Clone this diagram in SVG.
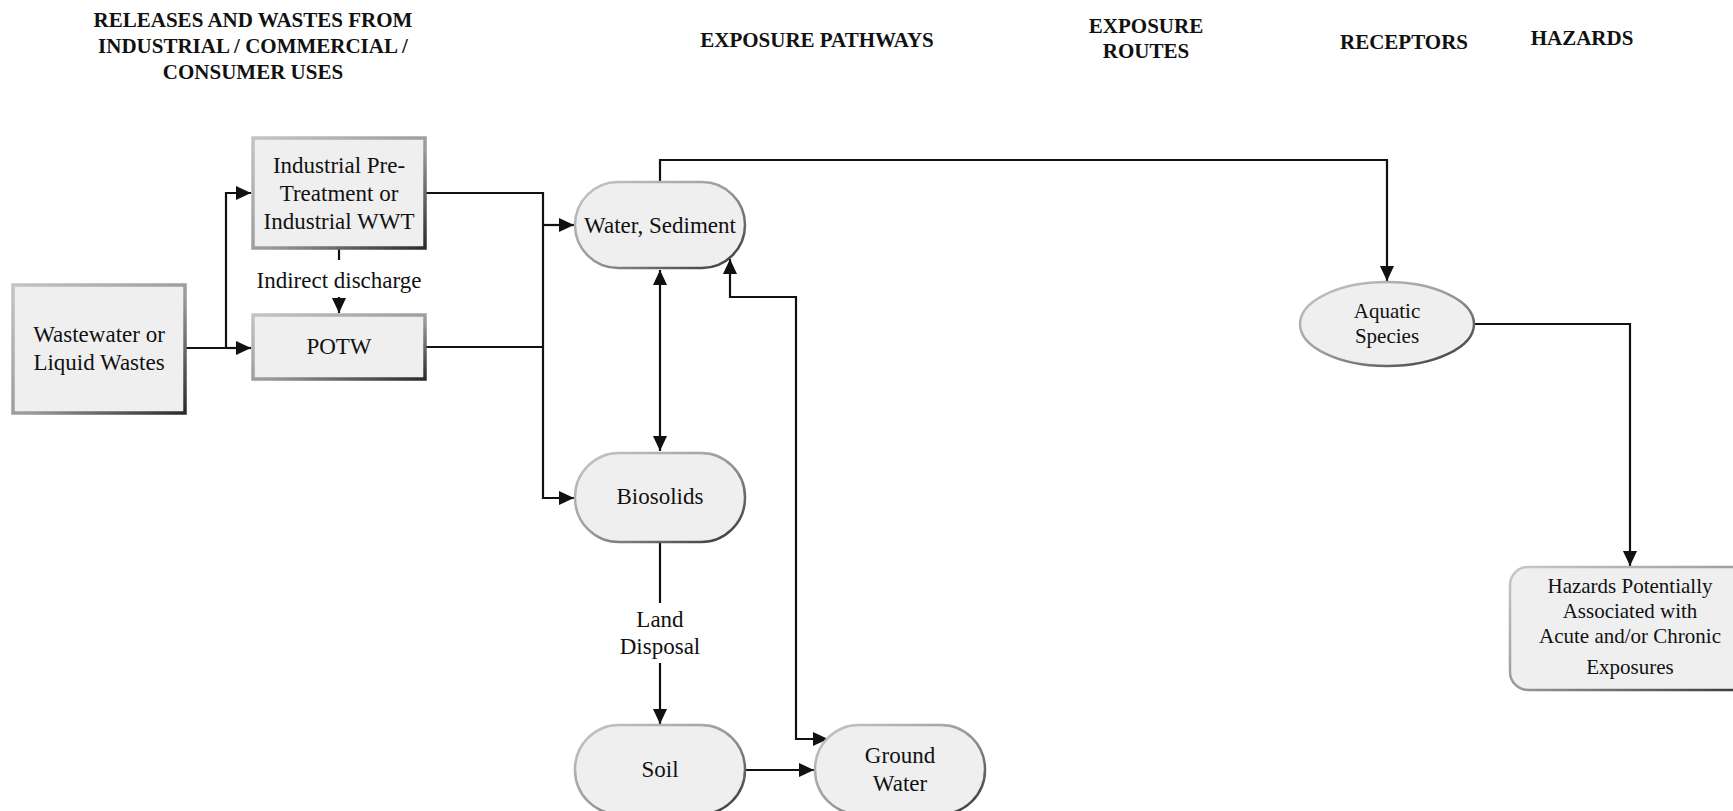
<svg xmlns="http://www.w3.org/2000/svg" width="1733" height="811" viewBox="0 0 1733 811">
<style>
text{font-family:"Liberation Serif","Times New Roman",serif;fill:#111;text-anchor:middle}
.hd{font-size:21px;font-weight:bold}
.t{font-size:23px}
.s{font-size:21px}
.box{fill:#efefef;stroke:url(#bev);stroke-width:3.5}
.pill{fill:#efefef;stroke:url(#bev2);stroke-width:2.5}
.ln{fill:none;stroke:#111;stroke-width:2.2}
</style>
<defs>
<linearGradient id="bev" x1="0" y1="0" x2="1" y2="1">
<stop offset="0" stop-color="#c4c4c4"/><stop offset="0.55" stop-color="#9a9a9a"/><stop offset="1" stop-color="#2a2a2a"/>
</linearGradient>
<linearGradient id="bev2" x1="0" y1="0" x2="1" y2="1">
<stop offset="0" stop-color="#c8c8c8"/><stop offset="0.5" stop-color="#9a9a9a"/><stop offset="1" stop-color="#333"/>
</linearGradient>
<marker id="ah" markerUnits="userSpaceOnUse" markerWidth="16" markerHeight="14" refX="15" refY="7" orient="auto-start-reverse">
<path d="M0,0 L15,7 L0,14 z" fill="#111"/>
</marker>
</defs>
<rect width="1733" height="811" fill="#fff"/>

<g id="headers">
<text class="hd" x="253" y="27">RELEASES AND WASTES FROM</text>
<text class="hd" x="253" y="53">INDUSTRIAL / COMMERCIAL /</text>
<text class="hd" x="253" y="79">CONSUMER USES</text>
<text class="hd" x="817" y="47">EXPOSURE PATHWAYS</text>
<text class="hd" x="1146" y="33">EXPOSURE</text>
<text class="hd" x="1146" y="58">ROUTES</text>
<text class="hd" x="1404" y="49">RECEPTORS</text>
<text class="hd" x="1582" y="45">HAZARDS</text>
</g>

<g id="connectors">
<path class="ln" d="M185,348 H226 V193 H251" marker-end="url(#ah)"/>
<path class="ln" d="M226,348 H251" marker-end="url(#ah)"/>
<path class="ln" d="M339,248 V260"/>
<path class="ln" d="M339,297 V313" marker-end="url(#ah)"/>
<path class="ln" d="M425,193 H543 V498 H574" marker-end="url(#ah)"/>
<path class="ln" d="M425,347 H543"/>
<path class="ln" d="M543,225 H574" marker-end="url(#ah)"/>
<path class="ln" d="M660,270 V451" marker-start="url(#ah)" marker-end="url(#ah)"/>
<path class="ln" d="M660,542 V603"/>
<path class="ln" d="M660,663 V724" marker-end="url(#ah)"/>
<path class="ln" d="M745,770 H814" marker-end="url(#ah)"/>
<path class="ln" d="M730,259 V297 H796 V739 H828" marker-start="url(#ah)" marker-end="url(#ah)"/>
<path class="ln" d="M660,182 V160 H1387 V281" marker-end="url(#ah)"/>
<path class="ln" d="M1475,324 H1630 V566" marker-end="url(#ah)"/>
<text class="t" x="339" y="288">Indirect discharge</text>
<text class="t" x="660" y="627">Land</text>
<text class="t" x="660" y="654">Disposal</text>
</g>

<g id="wastewater">
<rect class="box" x="13" y="285" width="172" height="128"/>
<text class="t" x="99" y="342">Wastewater or</text>
<text class="t" x="99" y="370">Liquid Wastes</text>
</g>

<g id="industrial">
<rect class="box" x="253" y="138" width="172" height="110"/>
<text class="t" x="339" y="173">Industrial Pre-</text>
<text class="t" x="339" y="201">Treatment or</text>
<text class="t" x="339" y="229">Industrial WWT</text>
</g>

<g id="potw">
<rect class="box" x="253" y="315" width="172" height="64"/>
<text class="t" x="339" y="354">POTW</text>
</g>

<g id="water-sediment">
<rect class="pill" x="575" y="182" width="170" height="86" rx="43"/>
<text class="t" x="660" y="233">Water, Sediment</text>
</g>

<g id="biosolids">
<rect class="pill" x="575" y="453" width="170" height="89" rx="44"/>
<text class="t" x="660" y="504">Biosolids</text>
</g>

<g id="soil">
<rect class="pill" x="575" y="725" width="170" height="89" rx="44"/>
<text class="t" x="660" y="777">Soil</text>
</g>

<g id="ground-water">
<rect class="pill" x="815" y="725" width="170" height="89" rx="44"/>
<text class="t" x="900" y="763">Ground</text>
<text class="t" x="900" y="791">Water</text>
</g>

<g id="aquatic-species">
<ellipse class="pill" cx="1387" cy="324" rx="87" ry="42"/>
<text class="s" x="1387" y="318">Aquatic</text>
<text class="s" x="1387" y="343">Species</text>
</g>

<g id="hazards">
<rect class="pill" x="1510" y="567" width="250" height="123" rx="18"/>
<text class="s" x="1630" y="593">Hazards Potentially</text>
<text class="s" x="1630" y="618">Associated with</text>
<text class="s" x="1630" y="643">Acute and/or Chronic</text>
<text class="s" x="1630" y="674">Exposures</text>
</g>
</svg>
